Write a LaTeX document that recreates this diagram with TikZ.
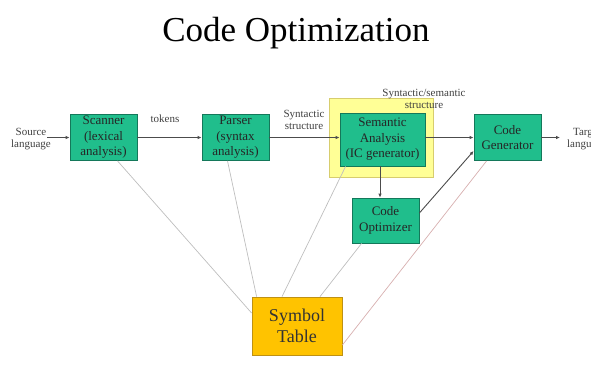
\documentclass[tikz,border=0pt]{standalone}
\usepackage{fontspec}
\setmainfont{Liberation Serif}
\usetikzlibrary{arrows.meta}

\definecolor{phasegreen}{RGB}{32,190,140}
\definecolor{phaseedge}{RGB}{20,120,90}
\definecolor{hilite}{RGB}{255,255,150}
\definecolor{hiliteedge}{RGB}{215,205,110}
\definecolor{tablefill}{RGB}{255,195,0}
\definecolor{tableedge}{RGB}{190,145,20}
\definecolor{linkgray}{RGB}{190,190,190}
\definecolor{linkpink}{RGB}{215,175,175}

\tikzset{
  phase/.style={draw=phaseedge, fill=phasegreen, line width=0.8pt, align=center,
    minimum width=67pt, minimum height=46pt, inner sep=0pt,
    font=\fontsize{13}{15.5}\selectfont, text=black!85},
  flowlabel/.style={align=center, inner sep=0pt, font=\fontsize{11}{12.5}\selectfont, text=black!75},
  flow/.style={draw=black!70, line width=0.9pt, -{Latex[length=4pt,width=3.5pt]}},
  tablelink/.style={draw=linkgray, line width=0.7pt}
}

\begin{document}
\begin{tikzpicture}[x=1pt, y=-1pt]
  \useasboundingbox (0,0) rectangle (591,370);
  \clip (0,0) rectangle (591,370);

  % Title
  \node (title) at (296,33) {\fontsize{35}{40}\selectfont Code Optimization};

  % Highlight behind the semantic phase
  \node (hl) at (381,137.5) [draw=hiliteedge, fill=hilite, line width=0.8pt,
    minimum width=104pt, minimum height=79pt] {};

  % Compiler phases
  \node (scanner) at (103.5,137.5) [phase] {Scanner\\(lexical\\analysis)};
  \node (parser)  at (235.5,137.5) [phase] {Parser\\(syntax\\analysis)};
  \node (sema)    at (382.5,139.5) [phase, minimum width=85pt, minimum height=53pt] {Semantic\\Analysis\\(IC generator)};
  \node (codegen) at (507.5,137.5) [phase] {Code\\Generator};
  \node (codeopt) at (385.5,220.5) [phase, minimum height=45pt] {Code\\Optimizer};

  % Symbol table
  \node (symtab) at (297,326) [draw=tableedge, fill=tablefill, line width=0.8pt, align=center,
    minimum width=90pt, minimum height=58pt, font=\fontsize{18}{21}\selectfont, text=black!80] {Symbol\\Table};

  % Edge labels and free ends
  \node (src) at (31,139) [flowlabel] {Source\\language};
  \node (tgt) at (587,139) [flowlabel] {Target\\language};
  \node (tok) at (165,119) [flowlabel] {tokens};
  \node (syn) at (304,120) [flowlabel] {Syntactic\\structure};
  \node (synsem) at (424,99) [flowlabel] {Syntactic/semantic\\structure};
  \coordinate (srcend) at (47,137.5);
  \coordinate (tgtend) at (560,137.5);

  % Links to the symbol table
  \coordinate (s1) at ([xshift=14pt]scanner.south);
  \coordinate (p1) at ([xshift=-8pt]parser.south);
  \coordinate (m1) at ([xshift=6pt]sema.south west);
  \coordinate (o1) at ([xshift=10pt]codeopt.south west);
  \coordinate (g1) at ([xshift=13pt]codegen.south west);
  \draw [tablelink] (s1) -- (symtab.west |- 0,313);
  \draw [tablelink] (p1) -- ([xshift=5pt]symtab.north west);
  \draw [tablelink] (m1) -- (symtab.north -| 282,0);
  \draw [tablelink] (o1) -- (symtab.north -| 320,0);
  \draw [tablelink, draw=linkpink] (g1) -- (symtab.east |- 0,345);

  % Phase connections
  \draw [flow, -] (srcend) -- (src.east |- srcend);
  \draw [flow] (srcend) -- (scanner.west);
  \draw [flow] (scanner.east) -- (parser.west);
  \draw [flow] (parser.east) -- (sema.west |- parser.east);
  \draw [flow] (sema.east |- codegen.west) -- (codegen.west);
  \draw [flow] (sema.south -| 380,0) -- (codeopt.north -| 380,0);
  \draw [flow] (codeopt.east |- 0,213) -- (codegen.west |- 0,151);
  \draw [flow] (codegen.east) -- (tgtend);
\end{tikzpicture}
\end{document}
